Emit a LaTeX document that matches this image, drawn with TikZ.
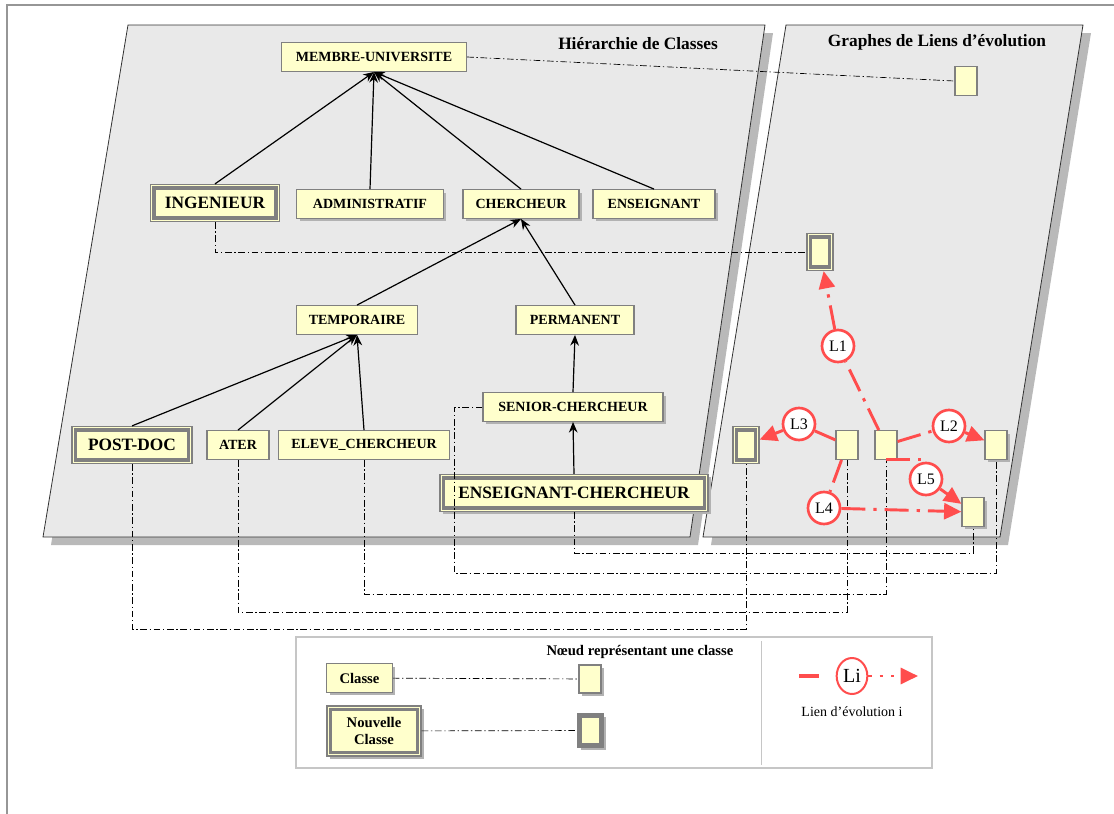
\documentclass[tikz,border=0pt]{standalone}
\usepackage{fontspec}
\setmainfont{Liberation Serif}
\usetikzlibrary{arrows.meta, shadows, shapes.geometric}

\definecolor{creme}{RGB}{255,255,204}
\definecolor{rougelien}{RGB}{255,77,77}
\definecolor{fondplan}{RGB}{233,233,233}
\definecolor{gristrait}{RGB}{150,150,150}

\begin{document}
\begin{tikzpicture}[x=0.75pt, y=-0.75pt,
    classe/.style={draw=gray, line width=0.9pt, fill=creme, inner sep=0pt,
        minimum height=21.5pt, font=\bfseries\fontsize{10.5}{12}\selectfont},
    nouvelle/.style={classe, minimum height=27.75pt, font=\bfseries\fontsize{13}{15}\selectfont,
        path picture={\draw[gray, line width=#1]
            ([shift={(#1,#1)}]path picture bounding box.south west) rectangle
            ([shift={(-#1,-#1)}]path picture bounding box.north east);}},
    nouvelle/.default=2.6pt,
    ombre/.style={drop shadow={shadow xshift=2.2pt, shadow yshift=-2.2pt, fill=gray!60, opacity=1}},
    noeud/.style={classe, minimum width=16.5pt, minimum height=21.5pt},
    trace/.style={black, line width=0.5pt, dash pattern=on 5pt off 2pt on 1pt off 2pt},
    herit/.style={-{Stealth[length=8pt, width=6.5pt]}, line width=0.9pt},
    lien/.style={circle, draw=rougelien, line width=2pt, fill=white, minimum size=24pt,
        inner sep=0pt, font=\fontsize{12}{14}\selectfont},
    evo/.style={rougelien, line width=2.2pt, dash pattern=on 18pt off 6pt on 2.5pt off 6pt},
    fleche/.style={-{Triangle[length=13pt, width=12pt]}}
]
\useasboundingbox (0,0) rectangle (1114,814);

% cadre
\draw[gristrait, line width=1.5pt] (7,814) -- (7,5) -- (1114,5);

% plans avec leur ombre
\fill[gray!55] (136,33) -- (773,33) -- (698,545) -- (51,545) -- cycle;
\filldraw[fill=fondplan, draw=black!80, line width=0.6pt] (128,25) -- (765,25) -- (690,537) -- (43,537) -- cycle;
\fill[gray!55] (794,33) -- (1091,33) -- (1008,545) -- (711,545) -- cycle;
\filldraw[fill=fondplan, draw=black!80, line width=0.6pt] (786,25) -- (1083,25) -- (1000,537) -- (703,537) -- cycle;

\node[font=\bfseries\fontsize{13}{15}\selectfont] (titreh) at (638,44) {Hiérarchie de Classes};
\node[font=\bfseries\fontsize{13}{15}\selectfont] (titreg) at (937,42) {Graphes de Liens d’évolution};

% hierarchie
\node[classe, minimum width=138.75pt] (membre) at (374,57) {MEMBRE-UNIVERSITE};
\node[nouvelle, minimum width=96.75pt] (ingenieur) at (215,203) {INGENIEUR};
\node[classe, ombre, minimum width=110pt] (admin) at (370,204) {ADMINISTRATIF};
\node[classe, ombre, minimum width=87pt] (chercheur) at (521,204) {CHERCHEUR};
\node[classe, ombre, minimum width=91.5pt] (enseignant) at (654,204) {ENSEIGNANT};
\node[classe, minimum width=91pt] (temporaire) at (357,320) {TEMPORAIRE};
\node[classe, minimum width=88.5pt] (permanent) at (575,320) {PERMANENT};
\node[classe, ombre, minimum width=135pt] (senior) at (573,407) {SENIOR-CHERCHEUR};
\node[nouvelle, minimum width=90pt] (postdoc) at (132,445) {POST-DOC};
\node[classe, minimum width=46.5pt] (ater) at (238,445) {ATER};
\node[classe, minimum width=128pt] (eleve) at (364,445) {ELEVE\_CHERCHEUR};
\node[nouvelle, ombre, minimum width=201pt] (enschr) at (574,493) {ENSEIGNANT-CHERCHEUR};

\foreach \fille/\mere in {ingenieur/membre, admin/membre, chercheur/membre, enseignant/membre,
    temporaire/chercheur, permanent/chercheur, postdoc/temporaire, ater/temporaire,
    eleve/temporaire, senior/permanent, enschr/senior}
    \draw[herit] (\fille.north) -- (\mere.south);

% graphe des liens
\node[noeud] (gA) at (966,81) {};
\node[noeud, nouvelle, minimum width=19.5pt, minimum height=27.75pt] (gB) at (820,252) {};
\node[noeud, nouvelle, minimum width=19.5pt, minimum height=27.75pt] (gC) at (746,445) {};
\node[noeud] (gD) at (847,445) {};
\node[noeud] (gE) at (886,445) {};
\node[noeud, ombre] (gF) at (996,445) {};
\node[noeud, ombre] (gG) at (973,512) {};

% correspondances classe / noeud
\draw[trace] (membre.east) -- (gA.west);
\draw[trace] (ingenieur.south) |- (gB.west);
\draw[trace] (postdoc.south) -- ++(0,165) -| (gC.south);
\draw[trace] (ater.south) -- ++(0,152) -| (gD.south);
\draw[trace] (eleve.south) -- ++(0,134) -| (gE.south);
\draw[trace] (senior.west) -| ++(-28,166) -| (gF.south);
\draw[trace] (enschr.south) -- ++(0,41) -| (gG.south);

% liens d'evolution
\node[lien] (l1) at (838,346) {L1};
\node[lien] (l2) at (949,426) {L2};
\node[lien] (l3) at (799,424) {L3};
\node[lien] (l4) at (824,508) {L4};
\node[lien] (l5) at (926,479) {L5};
\draw[evo] (gE) -- (l1);
\draw[evo, fleche] (l1) -- (gB);
\draw[evo] (gE) -- (l2);
\draw[evo, fleche] (l2) -- (gF);
\draw[evo] (gD) -- (l3);
\draw[evo, fleche] (l3) -- (gC);
\draw[evo] (gD) -- (l4);
\draw[evo, fleche] (l4) -- (gG);
\draw[evo] (gE.south) -| (l5);
\draw[evo, fleche] (l5) -- (gG);

% legende
\draw[gray!45, line width=1.2pt] (296,637) rectangle (932,768);
\draw[gray!45, line width=0.6pt] (761,641) -- (761,765);
\node[font=\bfseries\fontsize{11}{13}\selectfont] (titreleg) at (640,652) {Nœud représentant une classe};
\node[classe, ombre, minimum width=49pt, font=\bfseries\fontsize{11}{13}\selectfont] (lclasse) at (359.5,678) {Classe};
\node[noeud, ombre, minimum height=21pt] (lnoeud) at (590,679) {};
\node[nouvelle, ombre, minimum width=70.5pt, minimum height=37.5pt, align=center,
    font=\bfseries\fontsize{11}{13}\selectfont] (lnouvelle) at (374,731) {Nouvelle\\Classe};
\node[noeud, nouvelle=2pt, ombre, minimum width=18.75pt, minimum height=24.75pt] (lnnoeud) at (590.5,730.5) {};
\draw[trace] (lclasse) -- (lnoeud);
\draw[trace] (lnouvelle) -- (lnnoeud);

\node[ellipse, draw=rougelien, line width=1.5pt, fill=white, minimum width=23pt, minimum height=27pt,
    inner sep=0pt, font=\fontsize{15}{17}\selectfont] (li) at (852,676) {Li};
\coordinate (lidebut) at (799,676);
\coordinate (lifin) at (918,676);
\draw[rougelien, line width=2.6pt, dash pattern=on 15pt off 20pt] (lidebut) -- (li);
\draw[rougelien, line width=2.2pt, dash pattern=on 2.5pt off 6pt, fleche] (li) -- (lifin);
\node[font=\fontsize{10.5}{12}\selectfont] (lilegende) at (852,712) {Lien d’évolution i};
\end{tikzpicture}
\end{document}
